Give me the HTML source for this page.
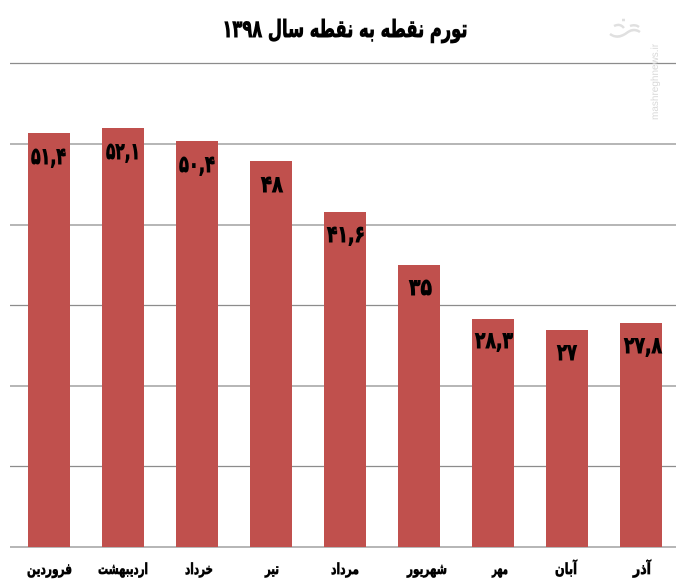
<!DOCTYPE html>
<html><head><meta charset="utf-8">
<style>
html,body{margin:0;padding:0;background:#fff;}
svg{display:block;}
.t{font-family:"DejaVu Sans",sans-serif;font-weight:bold;fill:#000;stroke:#000;}
</style></head>
<body>
<svg width="676" height="587" viewBox="0 0 676 587" xmlns="http://www.w3.org/2000/svg">
<rect width="676" height="587" fill="#fff"/>
<!-- gridlines -->
<g stroke="#8c8c8c" stroke-width="1.3">
<line x1="10" y1="63.5" x2="676" y2="63.5"/>
<line x1="10" y1="144" x2="676" y2="144"/>
<line x1="10" y1="225" x2="676" y2="225"/>
<line x1="10" y1="305.5" x2="676" y2="305.5"/>
<line x1="10" y1="386" x2="676" y2="386"/>
<line x1="10" y1="466.5" x2="676" y2="466.5"/>
<line x1="10" y1="547" x2="676" y2="547"/>
</g>
<!-- bars -->
<g fill="#C0504D">
<rect x="28" y="133" width="42" height="414"/>
<rect x="102" y="128" width="42" height="419"/>
<rect x="176" y="141" width="42" height="406"/>
<rect x="250" y="161" width="42" height="386"/>
<rect x="324" y="212" width="42" height="335"/>
<rect x="398" y="265" width="42" height="282"/>
<rect x="472" y="319" width="42" height="228"/>
<rect x="546" y="330" width="42" height="217"/>
<rect x="620" y="323" width="42" height="224"/>
</g>
<!-- value labels -->
<g class="t" font-size="23" direction="ltr" stroke-width="0.9">
<text x="31" y="164" textLength="35" lengthAdjust="spacingAndGlyphs">۵۱,۴</text>
<text x="106" y="159" textLength="34" lengthAdjust="spacingAndGlyphs">۵۲,۱</text>
<text x="179" y="172" textLength="36" lengthAdjust="spacingAndGlyphs">۵۰,۴</text>
<text x="261" y="192" textLength="22" lengthAdjust="spacingAndGlyphs">۴۸</text>
<text x="327" y="242" textLength="38" lengthAdjust="spacingAndGlyphs">۴۱,۶</text>
<text x="409" y="295" textLength="23" lengthAdjust="spacingAndGlyphs">۳۵</text>
<text x="475" y="348" textLength="38" lengthAdjust="spacingAndGlyphs">۲۸,۳</text>
<text x="557" y="360" textLength="20" lengthAdjust="spacingAndGlyphs">۲۷</text>
<text x="624" y="353" textLength="38" lengthAdjust="spacingAndGlyphs">۲۷,۸</text>
</g>
<!-- category labels -->
<g class="t" font-size="15" text-anchor="middle" direction="rtl" stroke-width="0.7">
<text x="49.5" y="574" textLength="45" lengthAdjust="spacingAndGlyphs">فروردین</text>
<text x="123" y="574" textLength="50" lengthAdjust="spacingAndGlyphs">اردیبهشت</text>
<text x="199" y="574" textLength="28" lengthAdjust="spacingAndGlyphs">خرداد</text>
<text x="272" y="574" textLength="14" lengthAdjust="spacingAndGlyphs">تیر</text>
<text x="345" y="574" textLength="28" lengthAdjust="spacingAndGlyphs">مرداد</text>
<text x="427" y="574" textLength="40" lengthAdjust="spacingAndGlyphs">شهریور</text>
<text x="500" y="574" textLength="16" lengthAdjust="spacingAndGlyphs">مهر</text>
<text x="566" y="574" textLength="22" lengthAdjust="spacingAndGlyphs">آبان</text>
<text x="642" y="574" textLength="18" lengthAdjust="spacingAndGlyphs">آذر</text>
</g>
<!-- title -->
<text class="t" x="345" y="37" font-size="24" text-anchor="middle" direction="rtl" textLength="245" lengthAdjust="spacingAndGlyphs" stroke-width="0.9">تورم نقطه به نقطه سال ۱۳۹۸</text>
<!-- watermark -->
<text x="0" y="0" transform="translate(658,120) rotate(-90)" font-family="Liberation Sans, sans-serif" font-size="10" fill="#d8d8d8">mashreghnews.ir</text>
<path d="M610 34 q8 6 18 -2 q6 -4 12 0 M614 26 q6 -3 10 2 M622 20 l3 0 M630 26 q5 -2 9 1" stroke="#e0e0e0" stroke-width="2.5" fill="none"/>
</svg>
</body></html>
